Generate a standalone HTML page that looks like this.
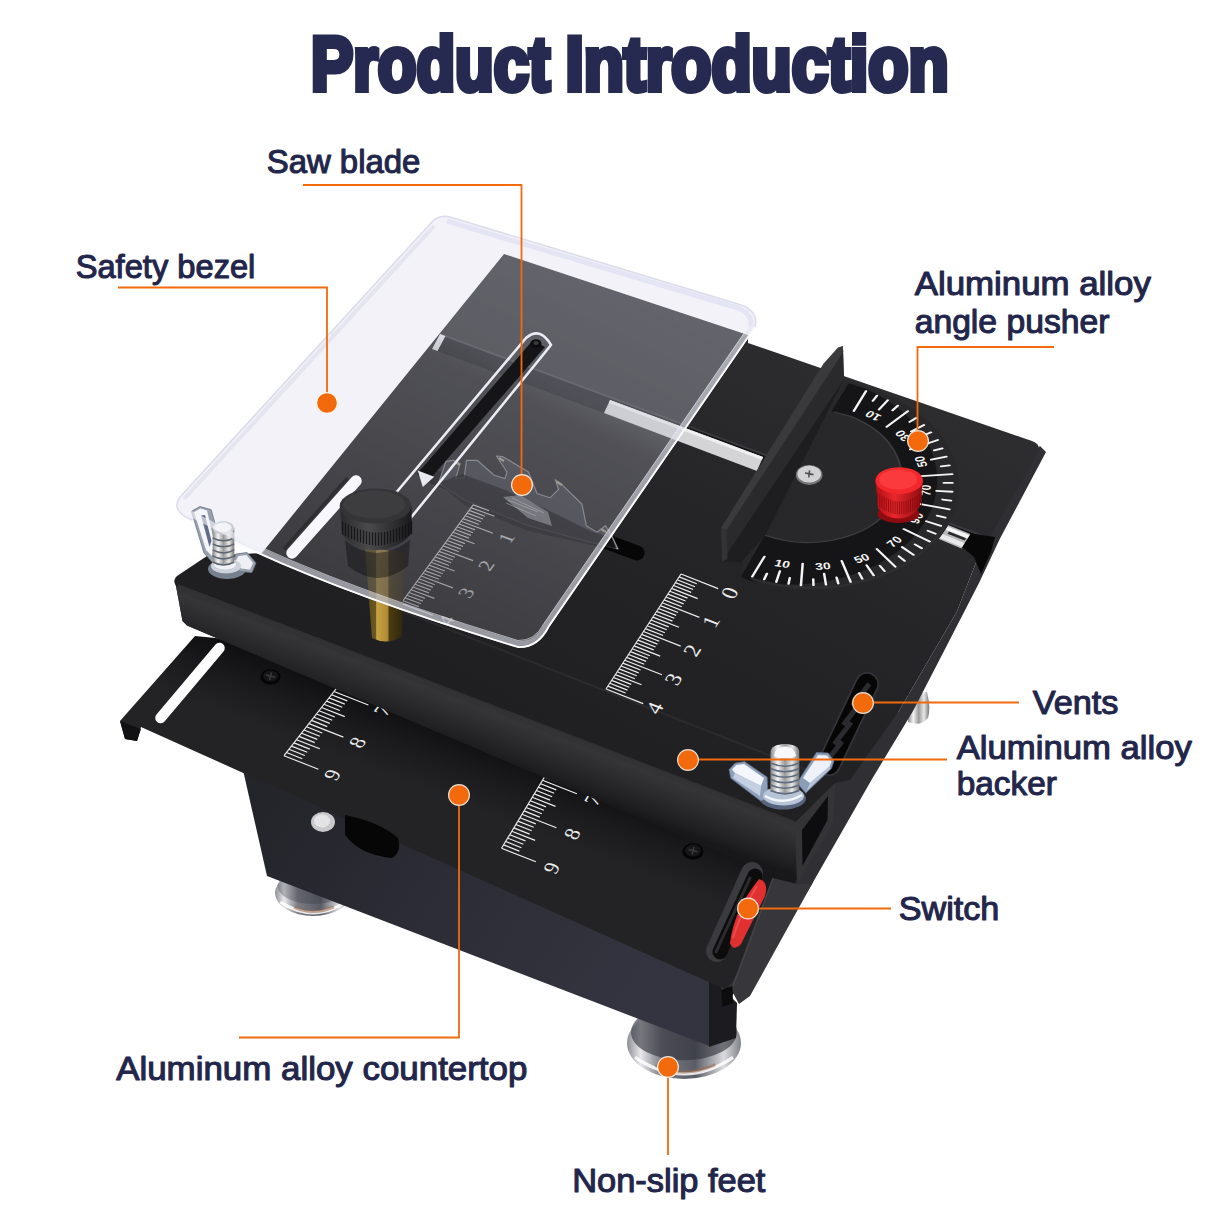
<!DOCTYPE html>
<html><head><meta charset="utf-8"><title>Product Introduction</title>
<style>
html,body{margin:0;padding:0;background:#fff;}
body{width:1214px;height:1214px;overflow:hidden;font-family:"Liberation Sans",sans-serif;}
svg{display:block;}
text{font-family:"Liberation Sans",sans-serif;}
text.sf{font-family:"Liberation Serif",serif;}
</style></head>
<body>
<svg width="1214" height="1214" viewBox="0 0 1214 1214">
<defs>
<linearGradient id="gBody" x1="0" y1="0" x2="1" y2="0.4">
 <stop offset="0" stop-color="#232429"/><stop offset="0.5" stop-color="#2b2c35"/><stop offset="1" stop-color="#33343f"/>
</linearGradient>
<linearGradient id="gChrome" x1="0" y1="0" x2="1" y2="0">
 <stop offset="0" stop-color="#8a8a8a"/><stop offset="0.25" stop-color="#f4f4f4"/><stop offset="0.5" stop-color="#9a9a9a"/><stop offset="0.75" stop-color="#e8e8e8"/><stop offset="1" stop-color="#777"/>
</linearGradient>
<linearGradient id="gFoot" x1="0" y1="0" x2="1" y2="0">
 <stop offset="0" stop-color="#8d8e94"/><stop offset="0.12" stop-color="#e8e8ec"/><stop offset="0.3" stop-color="#7a7c84"/><stop offset="0.6" stop-color="#5a5c66"/><stop offset="0.85" stop-color="#dcdce0"/><stop offset="1" stop-color="#808288"/>
</linearGradient>
<linearGradient id="gAcrW" x1="0" y1="0" x2="1" y2="1">
 <stop offset="0" stop-color="#ececf6"/><stop offset="1" stop-color="#e6e6f2"/>
</linearGradient>
<linearGradient id="gAcrT" x1="0" y1="0" x2="0" y2="1">
 <stop offset="0" stop-color="#737379"/><stop offset="0.5" stop-color="#626268"/><stop offset="1" stop-color="#505056"/>
</linearGradient>
<linearGradient id="gBrass" x1="0" y1="0" x2="1" y2="0">
 <stop offset="0" stop-color="#5a4a1a"/><stop offset="0.27" stop-color="#6b581f"/><stop offset="0.3" stop-color="#c7a346"/><stop offset="0.58" stop-color="#b08a32"/><stop offset="0.62" stop-color="#4c3c12"/><stop offset="1" stop-color="#2e250c"/>
</linearGradient>
<linearGradient id="gRed" x1="0" y1="0" x2="1" y2="0">
 <stop offset="0" stop-color="#b01016"/><stop offset="0.4" stop-color="#e8272b"/><stop offset="1" stop-color="#8c0c10"/>
</linearGradient>
<linearGradient id="gKnob" x1="0" y1="0" x2="1" y2="0">
 <stop offset="0" stop-color="#2a2a2c"/><stop offset="0.4" stop-color="#4a4a4d"/><stop offset="1" stop-color="#1a1a1c"/>
</linearGradient>
<linearGradient id="gFront" gradientUnits="userSpaceOnUse" x1="400" y1="668" x2="381" y2="718">
 <stop offset="0" stop-color="#2d2d30"/><stop offset="0.18" stop-color="#353538"/><stop offset="0.5" stop-color="#2b2b2e"/><stop offset="0.85" stop-color="#1f1f21"/><stop offset="1" stop-color="#18181a"/>
</linearGradient>
<linearGradient id="gLower" gradientUnits="userSpaceOnUse" x1="400" y1="705" x2="375" y2="770">
 <stop offset="0" stop-color="#0e0e10"/><stop offset="0.5" stop-color="#1a1a1c"/><stop offset="1" stop-color="#232325"/>
</linearGradient>
<linearGradient id="gAcrShade" gradientUnits="userSpaceOnUse" x1="600" y1="270" x2="420" y2="640">
 <stop offset="0" stop-color="#000000" stop-opacity="0.0"/><stop offset="0.3" stop-color="#000000" stop-opacity="0.04"/><stop offset="0.36" stop-color="#000000" stop-opacity="0.16"/><stop offset="1" stop-color="#000000" stop-opacity="0.36"/>
</linearGradient>
<linearGradient id="gTop" gradientUnits="userSpaceOnUse" x1="800" y1="330" x2="560" y2="760">
 <stop offset="0" stop-color="#2d2d30"/><stop offset="0.45" stop-color="#252527"/><stop offset="1" stop-color="#1f1f21"/>
</linearGradient>
<clipPath id="clipAcr"><path id="acrPath" d="M450,217 L738,304 Q759,310 755,327 L549,626 Q538,648 518,647 Q305,582.5 192,520 Q170,511 180,497 L430,224 Q438,214 450,217 Z"/></clipPath>
</defs>
<rect width="1214" height="1214" fill="#ffffff"/>
<ellipse cx="313" cy="893" rx="38" ry="23" fill="url(#gFoot)"/>
<ellipse cx="313" cy="886.1" rx="35.34" ry="17.94" fill="#30323a" opacity="0.3"/>
<path d="M280.32,902.2 Q313,923.36 345.68,902.2" stroke="#ffffff" stroke-width="3.2" fill="none" opacity="0.85"/>
<path d="M294.0,907.26 Q313,916.0 333.9,906.8" stroke="#9a6a4a" stroke-width="3" fill="none" opacity="0.55"/>
<ellipse cx="684" cy="1043" rx="57" ry="36" fill="url(#gFoot)"/>
<ellipse cx="684" cy="1032.2" rx="53.010000000000005" ry="28.080000000000002" fill="#30323a" opacity="0.62"/>
<path d="M634.98,1057.4 Q684,1090.52 733.02,1057.4" stroke="#ffffff" stroke-width="3.2" fill="none" opacity="0.85"/>
<path d="M655.5,1065.32 Q684,1079.0 715.35,1064.6" stroke="#9a6a4a" stroke-width="3" fill="none" opacity="0.55"/>
<path d="M908,694 L927,692 Q931,708 928,718 Q921,727 908,722 Z" fill="url(#gChrome)"/>
<polygon points="243.0,770.0 709.0,972.0 709.0,1046.0 267.0,876.0" fill="url(#gBody)" />
<polygon points="709.0,975.0 737.0,1003.0 736.0,1038.0 709.0,1047.0" fill="#1c1c20" />
<polygon points="195.0,636.0 120.0,721.0 125.0,739.0 137.0,741.0 141.0,727.0 722.0,988.0 729.0,997.0 748.0,984.0 812.0,884.0 840.0,815.0 840.0,700.0" fill="url(#gLower)" />
<polygon points="120.0,721.0 125.0,739.0 137.0,741.0 141.0,729.0" fill="#111113" />
<path d="M219.5,648 L160.5,718" stroke="#ffffff" stroke-width="10.5" stroke-linecap="round"/>
<path d="M345,815 Q380,822 398,838 Q402,852 392,858 Q360,855 345,835 Z" fill="#060607"/>
<ellipse cx="323" cy="822" rx="12" ry="10" fill="#c9c9cb"/><ellipse cx="322" cy="821" rx="8" ry="6.5" fill="#e4e4e6"/>
<path d="M364.0,653.0L284.0,755.7M364.0,653.0l15.8,6.2M361.5,656.2l15.8,6.2M359.0,659.4l34.4,13.5M356.5,662.6l15.8,6.2M354.0,665.8l15.8,6.2M351.5,669.0l15.8,6.2M349.0,672.2l15.8,6.2M346.5,675.5l23.3,9.1M344.0,678.7l15.8,6.2M341.5,681.9l15.8,6.2M339.0,685.1l15.8,6.2M336.5,688.3l15.8,6.2M334.0,691.5l34.4,13.5M331.5,694.7l15.8,6.2M329.0,697.9l15.8,6.2M326.5,701.1l15.8,6.2M324.0,704.3l15.8,6.2M321.5,707.5l23.3,9.1M319.0,710.8l15.8,6.2M316.5,714.0l15.8,6.2M314.0,717.2l15.8,6.2M311.5,720.4l15.8,6.2M309.0,723.6l34.4,13.5M306.5,726.8l15.8,6.2M304.0,730.0l15.8,6.2M301.5,733.2l15.8,6.2M299.0,736.4l15.8,6.2M296.5,739.7l23.3,9.1M294.0,742.9l15.8,6.2M291.5,746.1l15.8,6.2M289.0,749.3l15.8,6.2M286.5,752.5l15.8,6.2M284.0,755.7l34.4,13.5" stroke="#ededed" stroke-width="1.15" fill="none"/>
<g transform="matrix(0.931 0.365 -0.614 0.789 382.4 710.5)"><text transform="rotate(-90)" x="0" y="0" text-anchor="middle" dominant-baseline="central" class="sf" font-size="21" fill="#ededed">7</text></g>
<g transform="matrix(0.931 0.365 -0.614 0.789 357.4 742.6)"><text transform="rotate(-90)" x="0" y="0" text-anchor="middle" dominant-baseline="central" class="sf" font-size="21" fill="#ededed">8</text></g>
<g transform="matrix(0.931 0.365 -0.614 0.789 332.4 774.7)"><text transform="rotate(-90)" x="0" y="0" text-anchor="middle" dominant-baseline="central" class="sf" font-size="21" fill="#ededed">9</text></g>
<path d="M567.1,739.5L501.5,848.3M567.1,739.5l15.8,6.2M565.0,742.9l15.8,6.2M563.0,746.3l34.4,13.5M561.0,749.7l15.8,6.2M558.9,753.1l15.8,6.2M556.9,756.5l15.8,6.2M554.8,759.9l15.8,6.2M552.8,763.3l23.3,9.1M550.7,766.7l15.8,6.2M548.6,770.1l15.8,6.2M546.6,773.5l15.8,6.2M544.5,776.9l15.8,6.2M542.5,780.3l34.4,13.5M540.5,783.7l15.8,6.2M538.4,787.1l15.8,6.2M536.4,790.5l15.8,6.2M534.3,793.9l15.8,6.2M532.2,797.3l23.3,9.1M530.2,800.7l15.8,6.2M528.1,804.1l15.8,6.2M526.1,807.5l15.8,6.2M524.0,810.9l15.8,6.2M522.0,814.3l34.4,13.5M520.0,817.7l15.8,6.2M517.9,821.1l15.8,6.2M515.9,824.5l15.8,6.2M513.8,827.9l15.8,6.2M511.8,831.3l23.3,9.1M509.7,834.7l15.8,6.2M507.6,838.1l15.8,6.2M505.6,841.5l15.8,6.2M503.6,844.9l15.8,6.2M501.5,848.3l34.4,13.5" stroke="#ededed" stroke-width="1.15" fill="none"/>
<g transform="matrix(0.931 0.365 -0.516 0.856 592.8 800.0)"><text transform="rotate(-90)" x="0" y="0" text-anchor="middle" dominant-baseline="central" class="sf" font-size="21" fill="#ededed">7</text></g>
<g transform="matrix(0.931 0.365 -0.516 0.856 572.3 834.0)"><text transform="rotate(-90)" x="0" y="0" text-anchor="middle" dominant-baseline="central" class="sf" font-size="21" fill="#ededed">8</text></g>
<g transform="matrix(0.931 0.365 -0.516 0.856 551.8 868.0)"><text transform="rotate(-90)" x="0" y="0" text-anchor="middle" dominant-baseline="central" class="sf" font-size="21" fill="#ededed">9</text></g>
<ellipse cx="270.5" cy="677" rx="10" ry="7.8" fill="#050506"/><ellipse cx="270.5" cy="676" rx="7.5" ry="5.6" fill="#161618"/><path d="M266,675 l9,2.2 M271.5,672.5 l-2,7.5" stroke="#3a3a3e" stroke-width="1.6"/>
<ellipse cx="693" cy="851.5" rx="10.5" ry="8.2" fill="#050506"/><ellipse cx="693" cy="850.5" rx="8" ry="6" fill="#161618"/><path d="M688.5,849.5 l9,2.2 M694,847 l-2,7.5" stroke="#3a3a3e" stroke-width="1.6"/>
<polygon points="1040.0,446.0 1046.0,452.0 1000.0,538.5 979.0,583.0 943.5,652.0 913.0,711.0 872.0,779.0 812.0,884.0 748.0,986.0 727.0,989.0 795.0,883.0 835.0,783.0 899.0,711.0 917.0,680.0 956.7,612.0 977.0,560.0 1034.0,452.0" fill="#303034" />
<polygon points="175.0,581.0 182.5,621.0 187.0,625.5 795.0,884.0 835.0,783.0 800.0,790.0" fill="url(#gFront)" />
<path d="M504,254 L748,335 L748,343 L1032,441 Q1042,445 1038,453 L977,560 L956.7,612 L917,680 L899,711 L850,780 L835,783 L795,823 L176,586 Q172,580 177,576 L207,556 L262,553 Z" fill="url(#gTop)"/>
<polygon points="176.0,586.0 182.5,621.0 187.0,625.5 795.0,884.0 800.0,826.0 795.0,823.0" fill="url(#gFront)" />
<path d="M178,586 L795,823" stroke="#343437" stroke-width="4" opacity="0.8" fill="none"/>
<polygon points="835.0,783.0 833.5,822.0 797.0,884.0 795.0,823.0" fill="#343437" />
<polygon points="828.0,796.0 827.5,820.0 802.5,866.0 802.0,830.0" fill="#0d0d0f" />
<path d="M262,556 L812,772" stroke="#2e2e31" stroke-width="2" fill="none" opacity="0.8"/>
<path d="M440,334 L994,540 L986,555 L432,349 Z" fill="#131315"/>
<path d="M440,334 L994,540" stroke="#3a3a3e" stroke-width="2" fill="none"/>
<polygon points="968.6,533.0 995.0,537.0 991.0,552.0 981.0,574.0 974.0,557.0 962.0,547.0" fill="#080809" />
<polygon points="610.0,400.0 763.0,457.0 757.0,471.0 604.0,413.0" fill="#d4d4d6" />
<polygon points="610.0,400.0 763.0,457.0 762.0,460.0 609.0,403.0" fill="#efefef" />
<polygon points="945.6,524.1 970.3,534.0 961.4,548.5 937.7,538.5" fill="#b9b9bc" />
<polygon points="945.0,525.5 969.5,535.2 967.5,538.5 943.0,528.8" fill="#f6f6f6" />
<polygon points="941.0,533.5 964.5,543.0 962.0,547.0 938.5,537.5" fill="#e9e9ea" />
<polygon points="949.0,531.5 966.0,538.2 964.8,540.6 947.5,533.8" fill="#2a2a2d" />
<path d="M426,474 L637,553" stroke="#060607" stroke-width="15" stroke-linecap="round"/>
<path d="M446,461.4 L453.5,460.3 L460,463.6 L455.7,478.6 L464.3,477.5 L466.4,460.3 L477.1,460.3 L494.2,475.3 L505,478.6 L507,472 L496.4,456 L502.8,456.7 L528.5,472.1 L537,493.5 L550,497.8 L558.5,489.3 L555.3,479.6 L562.8,485.4 L582,504.3 L586.3,525.7 L597,532.1 L605.6,525.7 L612,536.4 L618,549 L592.8,542.8 L528.5,525.7 L464.3,500 L438.6,482.8 Z" fill="#3e3e45" stroke="#b4b4be" stroke-opacity="0.8" stroke-width="1.2" stroke-linejoin="round"/>
<path d="M438.5,482.8 L462,474 L505,490 L556,514 L590,531 L612,538 L616,549 L592,545 L528.5,531 L464.3,505 Z" fill="#09090a" opacity="0.78"/>
<path d="M503,497 L520,495 L548,512 L552,526 L528,518 Z" fill="#d6d6de" opacity="0.55"/>
<path d="M508,500 l30,12 M512,498 l32,15 M506,503 l30,13" stroke="#f2f2f6" stroke-width="1" opacity="0.55"/>
<path d="M455,462 l5,3" stroke="#d8c9a6" stroke-width="2.4" opacity="0.85"/>
<path d="M499,458 l5,3" stroke="#d8c9a6" stroke-width="2.4" opacity="0.85"/>
<path d="M557,482 l5,3" stroke="#d8c9a6" stroke-width="2.4" opacity="0.85"/>
<path d="M601,529 l5,3" stroke="#d8c9a6" stroke-width="2.4" opacity="0.85"/>
<path d="M681.0,574.0L606.0,689.0M681.0,574.0l37.2,14.6M679.1,576.9l17.7,6.9M677.2,579.8l17.7,6.9M675.4,582.6l17.7,6.9M673.5,585.5l17.7,6.9M671.6,588.4l26.1,10.2M669.8,591.2l17.7,6.9M667.9,594.1l17.7,6.9M666.0,597.0l17.7,6.9M664.1,599.9l17.7,6.9M662.2,602.8l37.2,14.6M660.4,605.6l17.7,6.9M658.5,608.5l17.7,6.9M656.6,611.4l17.7,6.9M654.8,614.2l17.7,6.9M652.9,617.1l26.1,10.2M651.0,620.0l17.7,6.9M649.1,622.9l17.7,6.9M647.2,625.8l17.7,6.9M645.4,628.6l17.7,6.9M643.5,631.5l37.2,14.6M641.6,634.4l17.7,6.9M639.8,637.2l17.7,6.9M637.9,640.1l17.7,6.9M636.0,643.0l17.7,6.9M634.1,645.9l26.1,10.2M632.2,648.8l17.7,6.9M630.4,651.6l17.7,6.9M628.5,654.5l17.7,6.9M626.6,657.4l17.7,6.9M624.8,660.2l37.2,14.6M622.9,663.1l17.7,6.9M621.0,666.0l17.7,6.9M619.1,668.9l17.7,6.9M617.2,671.8l17.7,6.9M615.4,674.6l26.1,10.2M613.5,677.5l17.7,6.9M611.6,680.4l17.7,6.9M609.8,683.2l17.7,6.9M607.9,686.1l17.7,6.9M606.0,689.0l37.2,14.6" stroke="#ededed" stroke-width="1.15" fill="none"/>
<g transform="matrix(0.931 0.365 -0.546 0.838 729.4 593.0)"><text transform="rotate(-90)" x="0" y="0" text-anchor="middle" dominant-baseline="central" class="sf" font-size="22" fill="#ededed">0</text></g>
<g transform="matrix(0.931 0.365 -0.546 0.838 710.7 621.7)"><text transform="rotate(-90)" x="0" y="0" text-anchor="middle" dominant-baseline="central" class="sf" font-size="22" fill="#ededed">1</text></g>
<g transform="matrix(0.931 0.365 -0.546 0.838 691.9 650.5)"><text transform="rotate(-90)" x="0" y="0" text-anchor="middle" dominant-baseline="central" class="sf" font-size="22" fill="#ededed">2</text></g>
<g transform="matrix(0.931 0.365 -0.546 0.838 673.2 679.2)"><text transform="rotate(-90)" x="0" y="0" text-anchor="middle" dominant-baseline="central" class="sf" font-size="22" fill="#ededed">3</text></g>
<g transform="matrix(0.931 0.365 -0.546 0.838 654.4 708.0)"><text transform="rotate(-90)" x="0" y="0" text-anchor="middle" dominant-baseline="central" class="sf" font-size="22" fill="#ededed">4</text></g>
<g clip-path="url(#clipAcr)"><path d="M473.1,504.9L401.0,603.4M473.1,504.9l15.9,5.9M471.1,507.6l23.4,8.7M469.1,510.4l15.9,5.9M467.1,513.1l15.9,5.9M465.1,515.8l15.9,5.9M463.1,518.6l15.9,5.9M461.1,521.3l31.9,11.9M459.1,524.0l15.9,5.9M457.1,526.8l15.9,5.9M455.1,529.5l15.9,5.9M453.1,532.2l15.9,5.9M451.1,535.0l23.4,8.7M449.1,537.7l15.9,5.9M447.1,540.5l15.9,5.9M445.1,543.2l15.9,5.9M443.1,545.9l15.9,5.9M441.1,548.7l31.9,11.9M439.1,551.4l15.9,5.9M437.1,554.1l15.9,5.9M435.1,556.9l15.9,5.9M433.1,559.6l15.9,5.9M431.1,562.3l23.4,8.7M429.0,565.1l15.9,5.9M427.0,567.8l15.9,5.9M425.0,570.6l15.9,5.9M423.0,573.3l15.9,5.9M421.0,576.0l31.9,11.9M419.0,578.8l15.9,5.9M417.0,581.5l15.9,5.9M415.0,584.2l15.9,5.9M413.0,587.0l15.9,5.9M411.0,589.7l23.4,8.7M409.0,592.5l15.9,5.9M407.0,595.2l15.9,5.9M405.0,597.9l15.9,5.9M403.0,600.7l15.9,5.9M401.0,603.4l31.9,11.9" stroke="#ededed" stroke-width="1.15" fill="none"/>
<g transform="matrix(0.937 0.350 -0.591 0.807 506.1 538.1)"><text transform="rotate(-90)" x="0" y="0" text-anchor="middle" dominant-baseline="central" class="sf" font-size="20" fill="#ededed">1</text></g>
<g transform="matrix(0.937 0.350 -0.591 0.807 486.0 565.5)"><text transform="rotate(-90)" x="0" y="0" text-anchor="middle" dominant-baseline="central" class="sf" font-size="20" fill="#ededed">2</text></g>
<g transform="matrix(0.937 0.350 -0.591 0.807 466.0 592.8)"><text transform="rotate(-90)" x="0" y="0" text-anchor="middle" dominant-baseline="central" class="sf" font-size="20" fill="#ededed">3</text></g>
<g transform="matrix(0.937 0.350 -0.591 0.807 446.0 620.2)"><text transform="rotate(-90)" x="0" y="0" text-anchor="middle" dominant-baseline="central" class="sf" font-size="20" fill="#ededed">4</text></g></g>
<path d="M867,684 L829,764" stroke="#343438" stroke-width="24" stroke-linecap="round"/>
<path d="M867,684 L829,764" stroke="#060607" stroke-width="20.5" stroke-linecap="round"/>
<path d="M852.4,705.8 L869.4,683.8" stroke="#2b2b2f" stroke-width="5"/>
<path d="M843.3,725.0 L860.3,703.0" stroke="#2b2b2f" stroke-width="5"/>
<path d="M834.2,744.2 L851.2,722.2" stroke="#2b2b2f" stroke-width="5"/>
<path d="M825.1,763.4 L842.1,741.4" stroke="#2b2b2f" stroke-width="5"/>
<polygon points="773.0,878.0 797.0,884.0 812.0,884.0 750.0,996.0 739.0,1004.0 731.5,990.0" fill="#37373b" />
<path d="M773,878 L731.5,990" stroke="#4a4a4e" stroke-width="1.6" opacity="0.8"/>
<polygon points="721.6,990.0 732.5,986.0 733.0,1003.0 722.0,1007.0" fill="#0c0c0d" />
<path d="M752,873 L717,951" stroke="#3b3b3f" stroke-width="22" stroke-linecap="round"/>
<path d="M755,876 L720,952" stroke="#0c0c0d" stroke-width="15" stroke-linecap="round"/>
<path d="M750,878 L716,952" stroke="#2b2b2e" stroke-width="3" stroke-linecap="round"/>
<path d="M759,879 Q769,882 765,896 L741,944 Q733,952 730,943 Q734,910 759,879 Z" fill="#e03030"/>
<path d="M757,886 Q741,912 733,938" stroke="#f0595a" stroke-width="2" fill="none" opacity="0.7"/>
<path d="M365,548 L404,552 L402,636 Q388,646 372,638 Z" fill="url(#gBrass)"/>
<polygon points="440.0,334.0 432.0,349.0 437.5,351.0 445.5,336.0" fill="#f2f2f8" />
<path d="M450,217 L738,304 Q759,310 755,327 L549,626 Q538,648 518,647 Q305,582.5 192,520 Q170,511 180,497 L430,224 Q438,214 450,217 Z" fill="#d8d8ea" fill-opacity="0.33"/>
<g clip-path="url(#clipAcr)"><path d="M504,254 L262,553 L795,823 L1038,453 Z" fill="url(#gAcrShade)"/></g>
<path d="M356,481 L292,553" stroke="#f7f7fd" stroke-width="11.5" stroke-linecap="round"/>
<path d="M347.5,478 L284,549" stroke="#2a2a2e" stroke-width="3.5" opacity="0.75"/>
<polygon points="533.0,340.0 545.0,347.0 429.0,480.0 417.0,474.0" fill="#151517" />
<polygon points="417.7,470.6 434.2,476.8 422.8,487.0" fill="#e9e9f1" />
<path d="M526,338 Q540,326 551,345 L409,520 L395,494 Z" fill="none" stroke="#ececf5" stroke-width="2.6" stroke-linejoin="round"/>
<ellipse cx="536" cy="343.5" rx="5.5" ry="4.2" fill="#0c0c0d"/><ellipse cx="536" cy="343" rx="2.6" ry="2" fill="#3c3c40"/>
<path d="M450,217 L738,304 Q759,310 755,327 L549,626 Q538,648 518,647 Q305,582.5 192,520 Q170,511 180,497 L430,224 Q438,214 450,217 Z" fill="none" stroke="#dadaea" stroke-width="1.6" opacity="0.95"/>
<path d="M447,221 L738,308 Q752,313 751,326" fill="none" stroke="#e2e2f3" stroke-width="5" opacity="0.9"/>
<path d="M193,516.5 Q305,579 518,643.5 Q537,644 546,625 L752,326" fill="none" stroke="#e4e4ee" stroke-width="5" opacity="0.55"/>
<path d="M192,520 Q305,582.5 518,647 Q538,648 549,626 L755,327" fill="none" stroke="#ffffff" stroke-width="1.8" opacity="0.95"/>
<path d="M194,513.5 Q305,576 518,640.5 Q535,641 543.5,624 L749,326" fill="none" stroke="#f4f4fa" stroke-width="1" opacity="0.6"/>
<path d="M184,499 L434,226" stroke="#dcdceb" stroke-width="4" opacity="0.6" fill="none"/>
<path d="M345,540 Q376,566 410,540 L408,566 Q378,590 348,566 Z" fill="#0d0d0f" opacity="0.42"/>
<path d="M340,507 L342,534 Q353,550 377,550 Q402,548 412,532 L411.5,506 Z" fill="url(#gKnob)"/>
<ellipse cx="375.5" cy="506" rx="35.8" ry="17.5" fill="#353538"/>
<ellipse cx="374.5" cy="504.5" rx="31" ry="14" fill="#3d3d40"/>
<path d="M342.5,521.6v13M345.5,523.1v13M348.5,524.6v13M351.5,526.0v13M354.5,527.3v13M357.5,528.6v13M360.5,529.6v13M363.5,530.6v13M366.5,531.3v13M369.5,531.9v13M372.5,532.3v13M375.5,532.5v13M378.5,532.5v13M381.5,532.3v13M384.5,531.9v13M387.5,531.3v13M390.5,530.6v13M393.5,529.6v13M396.5,528.6v13M399.5,527.3v13M402.5,526.0v13M405.5,524.6v13M408.5,523.1v13M411.5,521.6v13" stroke="#0f0f10" stroke-width="1.2" fill="none" opacity="0.8"/>
<ellipse cx="783" cy="798.5" rx="23" ry="11" fill="#56637c"/>
<path d="M729.1,769.6 L735,763.2 L744.6,761.6 L767.1,777.1 L768,798.5 L760.7,801 L730.7,778.2 Z" fill="#8fa0bb" stroke="#5c6b86" stroke-width="0.8"/>
<path d="M732,769.5 L736.5,765 L744,764 L764,778 L761,786 L735,773 Z" fill="#f3f6fb"/>
<path d="M735,773 L761,786 L760,796 L733,778 Z" fill="#c4d0e2"/>
<path d="M816.4,752.5 L828.2,753 L834,761 L831.4,768.6 L805.7,793.2 L797,783 Z" fill="#8c9db8" stroke="#5c6b86" stroke-width="0.8"/>
<path d="M818,755 L827,755.5 L831.5,761.5 L829.5,766.5 L810,783 L803,778 Z" fill="#eef2f8"/>
<path d="M810,783 L829.5,766.5 L830,769 L806.5,791 Z" fill="#b9c6da"/>
<ellipse cx="783.5" cy="796" rx="20.5" ry="9.5" fill="#b7c4d8"/>
<path d="M765,796 Q783,806 802,795" stroke="#f5f8fc" stroke-width="2.5" fill="none"/>
<path d="M770.5,752 Q771,744.5 785,744 Q799,744.5 799.3,752 L799.3,791 Q785,799 770.5,791 Z" fill="url(#gChrome)"/>
<path d="M770.5,763 q14.4,6.5 28.8,0M770.5,768.5 q14.4,6.5 28.8,0M770.5,774 q14.4,6.5 28.8,0M770.5,779.5 q14.4,6.5 28.8,0M770.5,785 q14.4,6.5 28.8,0M770.5,790.5 q14.4,6.5 28.8,0" stroke="#5f6b80" stroke-width="1.5" fill="none"/>
<path d="M774,756 Q775,747 785,746.5 Q795,747 796,756 Q785,761 774,756 Z" fill="#f7f9fc"/>
<ellipse cx="227" cy="569" rx="19" ry="10" fill="#77808f"/>
<path d="M191.4,511.3 L200,506.5 L211.2,509.7 L221,545 L224.4,565.7 L213,563 L204,553 Z" fill="#9aa1ae" stroke="#6b7384" stroke-width="0.8"/>
<path d="M194,512 L200.5,508.5 L207,510.5 L214,541 L212,556 L206,550 Z" fill="#f4f5f8"/>
<path d="M201,515.5 L205,515 L211.5,541 L209.5,547 Z" fill="#5f6c88"/>
<path d="M236,554 L247,552.5 L256,563 L252,572.5 L240,571.5 L231,563 Z" fill="#9aa1ae" stroke="#6b7384" stroke-width="0.8"/>
<path d="M238.5,556 L246.5,555 L253,563 L250,569.5 L241,568.5 L235,562 Z" fill="#eef0f4"/>
<ellipse cx="226" cy="566" rx="15" ry="7.5" fill="#cdd2db"/>
<ellipse cx="225" cy="564.5" rx="11" ry="5" fill="#f0f2f5"/>
<path d="M212.7,528 L212.7,561 Q223.5,569.16 234.3,561 L234.3,528 Z" fill="url(#gChrome)"/><path d="M212.7,537.8 q10.8,6.1 21.6,0M212.7,543.8 q10.8,6.1 21.6,0M212.7,549.9 q10.8,6.1 21.6,0M212.7,555.9 q10.8,6.1 21.6,0M212.7,562.0 q10.8,6.1 21.6,0" stroke="#5d6472" stroke-width="1.5" fill="none"/><ellipse cx="223.5" cy="528" rx="10.8" ry="6.8" fill="#c9ccd4"/><ellipse cx="223.0" cy="527.4" rx="8.6" ry="4.9" fill="#f3f4f7"/>
<path d="M188,512.5 Q225,531 262,550.5" stroke="#f4f4fa" stroke-width="6" opacity="0.62" fill="none"/>
<g transform="matrix(1.3246 0.4222 -0.5688 0.9272 809.09 483.83)"><path d="M-28,-104 L0,-104 A104,104 0 0 1 0,104 L-7,103 L-22,60 Z" fill="#28282a"/><path d="M-7,103.5 L0,104.5 A104,104.5 0 0 0 0,-102 L-14,-102 L-14,-72 L0,-72.8 A66,66 0 0 1 0,58.8 L-8,59 Z" fill="#151517"/><path d="M-12,-72 L0,-72.8 A66,66 0 0 1 0,58.8 L-10,59" fill="none" stroke="#3b3b3e" stroke-width="1.3"/><path d="M0,102 A102,102 0 0 0 102,0" fill="none" stroke="#2e2e31" stroke-width="2.2"/><path d="M0.00,78.50L0.00,100.00M8.15,93.14L8.67,99.12M15.37,87.16L17.28,97.99M24.20,90.31L25.75,96.11M26.85,73.77L34.20,93.97M39.51,84.74L42.05,90.18M44.25,76.64L49.75,86.17M53.63,76.59L57.07,81.51M50.46,60.13L64.28,76.60M66.11,66.11L70.36,70.36M67.79,56.89L76.22,63.96M76.59,53.63L81.51,57.07M67.98,39.25L86.60,50.00M84.74,39.51L90.18,42.05M83.16,30.27L93.50,34.03M90.31,24.20L96.11,25.75M77.31,13.63L98.48,17.36M93.14,8.15L99.12,8.67M88.50,0.00L99.50,0.00M93.14,-8.15L99.12,-8.67M77.31,-13.63L98.48,-17.36M90.31,-24.20L96.11,-25.75M83.16,-30.27L93.50,-34.03M84.74,-39.51L90.18,-42.05M67.98,-39.25L86.60,-50.00M76.59,-53.63L81.51,-57.07M67.79,-56.89L76.22,-63.96M66.11,-66.11L70.36,-70.36M50.46,-60.13L64.28,-76.60M53.63,-76.59L57.07,-81.51M44.25,-76.64L49.75,-86.17M39.51,-84.74L42.05,-90.18M26.85,-73.77L34.20,-93.97M24.20,-90.31L25.75,-96.11M15.37,-87.16L17.28,-97.99M8.15,-93.14L8.67,-99.12M0.00,-78.50L0.00,-100.00" stroke="#f4f4f4" stroke-width="1.75" fill="none" stroke-linecap="round"/><text transform="translate(14.07,79.77) rotate(-10)" text-anchor="middle" font-size="9.6" font-weight="bold" fill="#f4f4f4" y="3.4">10</text><text transform="translate(40.50,70.15) rotate(-30)" text-anchor="middle" font-size="9.6" font-weight="bold" fill="#f4f4f4" y="3.4">30</text><text transform="translate(62.05,52.07) rotate(-50)" text-anchor="middle" font-size="9.6" font-weight="bold" fill="#f4f4f4" y="3.4">50</text><text transform="translate(76.12,27.70) rotate(-70)" text-anchor="middle" font-size="9.6" font-weight="bold" fill="#f4f4f4" y="3.4">70</text><text transform="translate(81.00,0.00) rotate(-90)" text-anchor="middle" font-size="9.6" font-weight="bold" fill="#f4f4f4" y="3.4">90</text><text transform="translate(76.12,-27.70) rotate(-110)" text-anchor="middle" font-size="9.6" font-weight="bold" fill="#f4f4f4" y="3.4">70</text><text transform="translate(62.05,-52.07) rotate(-130)" text-anchor="middle" font-size="9.6" font-weight="bold" fill="#f4f4f4" y="3.4">50</text><text transform="translate(40.50,-70.15) rotate(-150)" text-anchor="middle" font-size="9.6" font-weight="bold" fill="#f4f4f4" y="3.4">30</text><text transform="translate(14.07,-79.77) rotate(-170)" text-anchor="middle" font-size="9.6" font-weight="bold" fill="#f4f4f4" y="3.4">10</text></g>
<polygon points="842.9,346.0 843.9,379.4 765.5,535.0 741.0,562.0 722.0,561.5 721.0,527.8" fill="#1e1e20" />
<polygon points="842.9,346.0 843.9,379.4 722.0,561.5 721.0,527.8" fill="#2a2a2d" />
<polygon points="721.0,527.8 823.6,363.4 838.0,347.5 842.9,346.0 843.3,352.0 726.5,530.0" fill="#3a3a3d" />
<polygon points="721.0,527.8 726.5,530.0 727.5,559.0 722.0,561.5" fill="#333336" />
<ellipse cx="809.2" cy="474.9" rx="13.3" ry="10" fill="#77777a"/><ellipse cx="809.2" cy="474" rx="11.8" ry="8.6" fill="#d2d2d4"/><path d="M805,473 l8.5,1.6 M809.6,470.4 l-0.8,7" stroke="#4d4d50" stroke-width="1.6"/>
<ellipse cx="898.5" cy="514" rx="21" ry="9" fill="#8e0b10"/>
<path d="M875.5,481 L878,508 Q886,519 899,518.5 Q913,518 920,506 L923,481 Z" fill="url(#gRed)"/>
<ellipse cx="899.2" cy="480.6" rx="23.8" ry="13.4" fill="#f4272c"/>
<ellipse cx="898.2" cy="479.4" rx="19" ry="10" fill="#fb3a3e"/>
<path d="M877.5,492.7v13M879.7,494.1v13M881.9,495.5v13M884.1,496.8v13M886.3,497.9v13M888.5,499.0v13M890.7,499.8v13M892.9,500.6v13M895.1,501.1v13M897.3,501.4v13M899.5,501.5v13M901.7,501.4v13M903.9,501.1v13M906.1,500.6v13M908.3,499.8v13M910.5,499.0v13M912.7,497.9v13M914.9,496.8v13M917.1,495.5v13M919.3,494.1v13M921.5,492.7v13" stroke="#86090e" stroke-width="0.9" fill="none" opacity="0.85"/>
<path d="M303,185 H521.5 V485" stroke="#f26a0c" stroke-width="1.8" fill="none"/>
<path d="M118,287.5 H327 V403" stroke="#f26a0c" stroke-width="1.8" fill="none"/>
<path d="M1054,347 H917.5 V441" stroke="#f26a0c" stroke-width="1.8" fill="none"/>
<path d="M862,702.5 H1019" stroke="#f26a0c" stroke-width="1.8" fill="none"/>
<path d="M688,759.5 H947" stroke="#f26a0c" stroke-width="1.8" fill="none"/>
<path d="M748,908.5 H891" stroke="#f26a0c" stroke-width="1.8" fill="none"/>
<path d="M459,795 V1037.5 H239" stroke="#f26a0c" stroke-width="1.8" fill="none"/>
<path d="M668,1067 V1155" stroke="#f26a0c" stroke-width="1.8" fill="none"/>
<circle cx="522" cy="485" r="11.0" fill="#fff3e6" opacity="0.9"/><circle cx="522" cy="485" r="9.8" fill="#f26a0c"/>
<circle cx="327" cy="403" r="11.0" fill="#fff3e6" opacity="0.9"/><circle cx="327" cy="403" r="9.8" fill="#f26a0c"/>
<circle cx="918" cy="441" r="11.0" fill="#fff3e6" opacity="0.9"/><circle cx="918" cy="441" r="9.8" fill="#f26a0c"/>
<circle cx="863" cy="703" r="11.0" fill="#fff3e6" opacity="0.9"/><circle cx="863" cy="703" r="9.8" fill="#f26a0c"/>
<circle cx="688" cy="760" r="11.0" fill="#fff3e6" opacity="0.9"/><circle cx="688" cy="760" r="9.8" fill="#f26a0c"/>
<circle cx="748" cy="908.5" r="11.0" fill="#fff3e6" opacity="0.9"/><circle cx="748" cy="908.5" r="9.8" fill="#f26a0c"/>
<circle cx="459" cy="795" r="11.0" fill="#fff3e6" opacity="0.9"/><circle cx="459" cy="795" r="9.8" fill="#f26a0c"/>
<circle cx="668" cy="1067" r="11.0" fill="#fff3e6" opacity="0.9"/><circle cx="668" cy="1067" r="9.8" fill="#f26a0c"/>
<text x="266.7" y="172.5" font-size="33.5" fill="#23264b" textLength="153.7" lengthAdjust="spacingAndGlyphs" stroke="#23264b" stroke-width="1.1" stroke-linejoin="round">Saw blade</text>
<text x="75.7" y="277.5" font-size="33.5" fill="#23264b" textLength="179.7" lengthAdjust="spacingAndGlyphs" stroke="#23264b" stroke-width="1.1" stroke-linejoin="round">Safety bezel</text>
<text x="914.7" y="295" font-size="33.5" fill="#23264b" textLength="236.2" lengthAdjust="spacingAndGlyphs" stroke="#23264b" stroke-width="1.1" stroke-linejoin="round">Aluminum alloy</text>
<text x="914.7" y="332.5" font-size="33.5" fill="#23264b" textLength="194.7" lengthAdjust="spacingAndGlyphs" stroke="#23264b" stroke-width="1.1" stroke-linejoin="round">angle pusher</text>
<text x="1032.7" y="713.5" font-size="33.5" fill="#23264b" textLength="85.7" lengthAdjust="spacingAndGlyphs" stroke="#23264b" stroke-width="1.1" stroke-linejoin="round">Vents</text>
<text x="956.7" y="758.5" font-size="33.5" fill="#23264b" textLength="235.2" lengthAdjust="spacingAndGlyphs" stroke="#23264b" stroke-width="1.1" stroke-linejoin="round">Aluminum alloy</text>
<text x="956.7" y="794.5" font-size="33.5" fill="#23264b" textLength="100.2" lengthAdjust="spacingAndGlyphs" stroke="#23264b" stroke-width="1.1" stroke-linejoin="round">backer</text>
<text x="898.7" y="919.5" font-size="33.5" fill="#23264b" textLength="100.7" lengthAdjust="spacingAndGlyphs" stroke="#23264b" stroke-width="1.1" stroke-linejoin="round">Switch</text>
<text x="116.2" y="1079.5" font-size="33.5" fill="#23264b" textLength="411.2" lengthAdjust="spacingAndGlyphs" stroke="#23264b" stroke-width="1.1" stroke-linejoin="round">Aluminum alloy countertop</text>
<text x="572.2" y="1192" font-size="33.5" fill="#23264b" textLength="193.2" lengthAdjust="spacingAndGlyphs" stroke="#23264b" stroke-width="1.1" stroke-linejoin="round">Non-slip feet</text>
<text x="311" y="89.5" font-size="76" font-weight="bold" fill="#262950" stroke="#262950" stroke-width="6" stroke-linejoin="miter" lengthAdjust="spacingAndGlyphs" textLength="239">Product</text>
<text x="565.5" y="89.5" font-size="76" font-weight="bold" fill="#262950" stroke="#262950" stroke-width="6" stroke-linejoin="miter" lengthAdjust="spacingAndGlyphs" textLength="383">Introduction</text>
</svg>
</body></html>
